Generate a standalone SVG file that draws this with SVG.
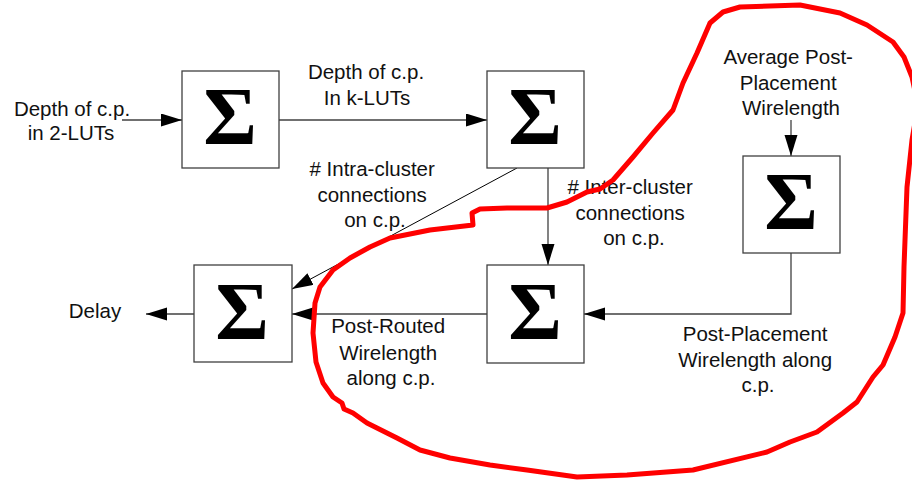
<svg xmlns="http://www.w3.org/2000/svg" width="912" height="480" viewBox="0 0 912 480">
<defs>
<style>
.box{fill:#fff;stroke:#404040;stroke-width:1.3}
.sig{font-family:"Liberation Serif","Times New Roman",serif;font-weight:bold;font-size:82px;fill:#000;text-anchor:middle}
.lbl{font-family:"Liberation Sans",Arial,sans-serif;font-size:20.5px;fill:#111;text-anchor:middle}
.con{fill:none;stroke:#404040;stroke-width:1.3}
.thin{fill:none;stroke:#000;stroke-width:1}
.loop{fill:none;stroke:#ff0000;stroke-width:5;stroke-linejoin:round;stroke-linecap:round}
</style>
<marker id="ah" markerUnits="userSpaceOnUse" markerWidth="22" markerHeight="14" refX="21" refY="6.5" orient="auto">
<path d="M0,0 L21,6.5 L0,13 z" fill="#000"/>
</marker>
</defs>
<rect width="912" height="480" fill="#fff"/>

<g id="connectors">
<line class="con" x1="122" y1="120" x2="182" y2="120" marker-end="url(#ah)"/>
<line class="con" x1="279" y1="120" x2="487" y2="120" marker-end="url(#ah)"/>
<line class="thin" x1="517" y1="168" x2="292" y2="289" marker-end="url(#ah)"/>
<line class="con" x1="548" y1="168" x2="548" y2="265" marker-end="url(#ah)"/>
<line class="con" x1="791" y1="120" x2="791" y2="156" marker-end="url(#ah)"/>
<polyline class="con" points="791,253 791,314 584,314" marker-end="url(#ah)"/>
<line class="con" x1="487" y1="314" x2="292" y2="314" marker-end="url(#ah)"/>
<line class="con" x1="194" y1="314" x2="146" y2="314" marker-end="url(#ah)"/>
</g>

<g id="node-sum1">
<rect class="box" x="182" y="71" width="97" height="97"/>
<text class="sig" x="230" y="144">Σ</text>
</g>
<g id="node-sum2">
<rect class="box" x="487" y="71" width="97" height="97"/>
<text class="sig" x="535" y="144">Σ</text>
</g>
<g id="node-sum3">
<rect class="box" x="743" y="156" width="97" height="97"/>
<text class="sig" x="791" y="229">Σ</text>
</g>
<g id="node-sum4">
<rect class="box" x="194" y="265" width="98" height="97"/>
<text class="sig" x="242" y="339">Σ</text>
</g>
<g id="node-sum5">
<rect class="box" x="487" y="265" width="97" height="98"/>
<text class="sig" x="535" y="339">Σ</text>
</g>

<g id="labels">
<text class="lbl" x="72" y="116">Depth of c.p.</text>
<text class="lbl" x="71" y="140">in 2-LUTs</text>
<text class="lbl" x="366" y="79">Depth of c.p.</text>
<text class="lbl" x="367" y="105">In k-LUTs</text>
<text class="lbl" x="375" y="176">
<tspan x="375" y="176"># Intra-cluster</tspan>
<tspan x="375" y="202">connections</tspan>
<tspan x="375" y="227">on c.p.</tspan>
</text>
<text class="lbl" x="633" y="194">
<tspan x="633" y="194"># Inter-cluster</tspan>
<tspan x="633" y="220">connections</tspan>
<tspan x="634" y="245">on c.p.</tspan>
</text>
<text class="lbl" x="791" y="64">
<tspan x="791" y="64">Average Post-</tspan>
<tspan x="791" y="90">Placement</tspan>
<tspan x="791" y="115">Wirelength</tspan>
</text>
<text class="lbl" x="95" y="318">Delay</text>
<text class="lbl" x="391" y="333">
<tspan x="391" y="333">Post-Routed</tspan>
<tspan x="391" y="360">Wirelength</tspan>
<tspan x="391" y="385">along c.p.</tspan>
</text>
<text class="lbl" x="758" y="341">
<tspan x="758" y="341">Post-Placement</tspan>
<tspan x="758" y="367">Wirelength along</tspan>
<tspan x="758" y="392">c.p.</tspan>
</text>
</g>

<path id="highlight-loop" class="loop" d="M710,23 L723,12 L740,7 L800,5 L840,13 L867,25 L893,42 L904,57 L912,77 L918,105 L912,140 L907,187 L904,267 L903,313 L895,337 L883,365 L873,377 L857,402 L843,413 L817,432 L790,442 L767,452 L693,470 L627,475 L577,477 L527,470 L490,465 L450,458 L420,450 L397,438 L367,423 L353,413 L344,409 L342,403 L333,397 L323,383 L316,362 L313,333 L315,303 L320,287 L333,270 L350,258 L370,247 L390,238 L430,230 L473,225 L472,213 L480,209 L507,208 L547,208 L567,202 L587,192 L600,189 L613,180 L633,157 L653,133 L673,110 L683,83 L697,53 L710,23"/>
</svg>
